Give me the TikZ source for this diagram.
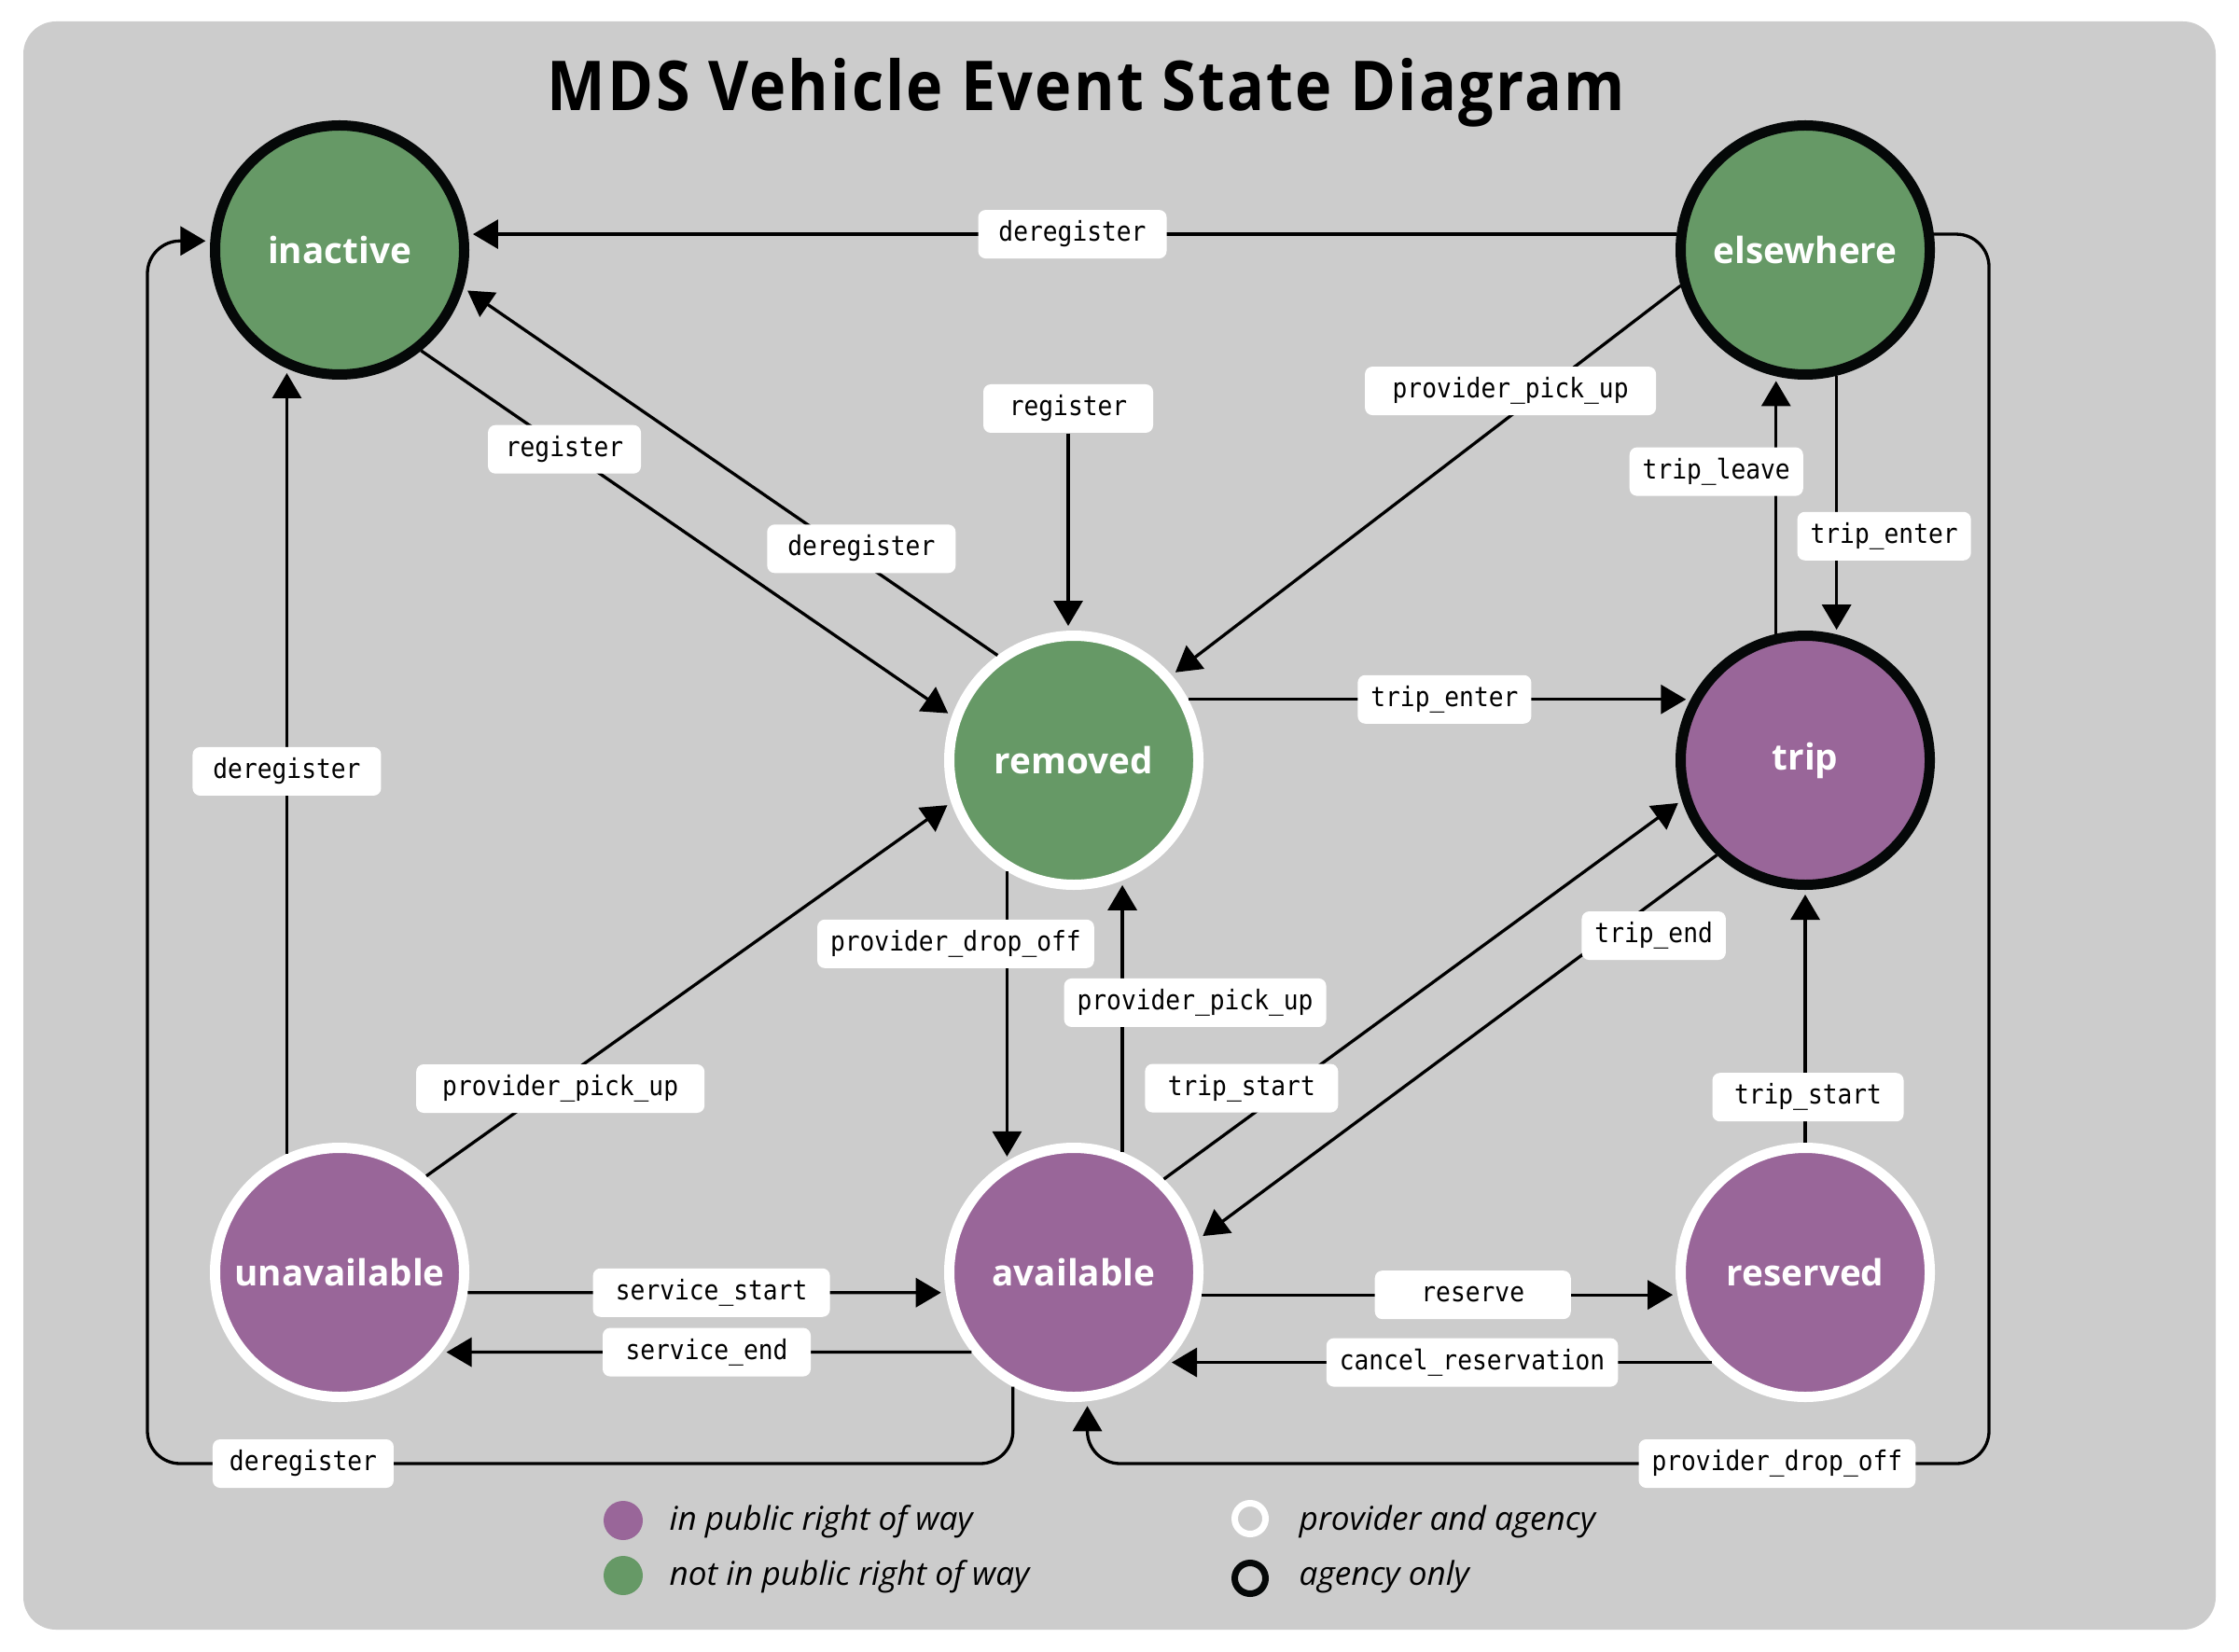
\documentclass[tikz,border=0pt]{standalone}
\usepackage{fontspec}
\usepackage{tikz}
\usetikzlibrary{arrows.meta, positioning}
\newfontfamily\titlefont{Open Sans}[FakeStretch=0.9, LetterSpace=3]
\newfontfamily\statefont{Open Sans}
\newfontfamily\eventfont{DejaVu Sans Mono}[FakeStretch=0.9]
\definecolor{panelgray}{RGB}{204,204,204}
\definecolor{offgreen}{RGB}{102,153,102}
\definecolor{rowpurple}{RGB}{153,102,153}
\definecolor{agencyblack}{RGB}{5,8,8}

\begin{document}
\begin{tikzpicture}[x=1mm, y=-1mm, on grid,
    state/.style={circle, minimum size=26.7mm, inner sep=0pt, line width=1.1mm, text=white,
                  font=\statefont\bfseries\fontsize{11pt}{13pt}\selectfont},
    agency/.style={state, draw=agencyblack},
    shared/.style={state, draw=white},
    event/.style={fill=white, rounded corners=0.8mm, inner xsep=1.4mm, inner ysep=0pt,
                  text height=6.2pt, text depth=1.9pt, minimum height=5.2mm,
                  font=\eventfont\fontsize{8.3pt}{10pt}\selectfont},
    arrow/.style={-{Triangle[length=2.7mm, width=3.1mm]}, line width=0.33mm, shorten >=0.5mm},
    legdot/.style={circle, minimum size=4.2mm, inner sep=0pt},
    legring/.style={circle, minimum size=3.3mm, inner sep=0pt, line width=0.7mm},
    legtext/.style={anchor=base west, inner sep=0pt, font=\statefont\itshape\fontsize{10pt}{12pt}\selectfont}
]
    \fill[white] (0,0) rectangle (240,177.1);
    \fill[panelgray, rounded corners=3.5mm] (2.5,2.3) rectangle (237.5,174.7);

    \node[font=\titlefont\bfseries\fontsize{21pt}{25pt}\selectfont, anchor=base] (title) at (116.45,11.9)
        {MDS Vehicle Event State Diagram};

    \node[agency, fill=offgreen] (inactive) at (36.4,26.8) {inactive};
    \node[agency, fill=offgreen, right=157.1mm of inactive] (elsewhere) {elsewhere};
    \node[shared, fill=offgreen, below right=54.7mm and 78.7mm of inactive] (removed) {removed};
    \node[agency, fill=rowpurple, below=54.7mm of elsewhere] (trip) {trip};
    \node[shared, fill=rowpurple, below=109.6mm of inactive] (unavailable) {unavailable};
    \node[shared, fill=rowpurple, below=54.9mm of removed] (available) {available};
    \node[shared, fill=rowpurple, below=54.9mm of trip] (reserved) {reserved};

    \node[event, minimum width=18.2mm, above=37.7mm of removed, xshift=-0.6mm] (newreg) {register};
    \coordinate (eastrail) at (213.2,156.9);
    \coordinate (westrail) at (15.8,156.9);

    \draw[arrow] (elsewhere.173) -- node[event, minimum width=20.2mm]{deregister} (inactive.7);
    \draw[arrow, rounded corners=3.5mm] (elsewhere.7) -| (eastrail)
        -- node[event, pos=0.235]{provider\_drop\_off} (eastrail -| available.-84) -- (available.-84);
    \draw[arrow, rounded corners=3.5mm] (available.-118) -- (available.-118 |- westrail)
        -- node[event, pos=0.82, minimum width=19.4mm]{deregister} (westrail) |- (inactive.176);
    \draw[arrow] (inactive.-51) -- node[event, pos=0.27, minimum width=16.4mm]{register} (removed.160);
    \draw[arrow] (removed.126) -- node[event, pos=0.29, xshift=2mm, minimum width=20.2mm]{deregister} (inactive.-17);
    \draw[arrow] (newreg) -- (newreg |- removed.north);
    \draw[arrow] (elsewhere.196) -- node[event, pos=0.27, xshift=-3.5mm, minimum width=31.2mm]{provider\_pick\_up} (removed.41);
    \draw[arrow] (removed.28) -- node[event, pos=0.51]{trip\_enter} (trip.152);
    \draw[arrow] (trip.103) -- node[event, pos=0.63, xshift=-6.4mm]{trip\_leave} (elsewhere.257);
    \draw[arrow] (elsewhere.-76) -- node[event, pos=0.62, xshift=5.1mm]{trip\_enter} (trip.76);
    \draw[arrow] (unavailable.114) -- node[event, pos=0.487, minimum width=20.2mm]{deregister} (inactive.246);
    \draw[arrow] (unavailable.48) -- node[event, pos=0.234, xshift=1.2mm, minimum width=30.9mm]{provider\_pick\_up} (removed.199);
    \draw[arrow] (removed.239) -- node[event, pos=0.25, xshift=-5.5mm]{provider\_drop\_off} (available.121);
    \draw[arrow] (available.68) -- node[event, pos=0.55, xshift=7.8mm]{provider\_pick\_up} (removed.292);
    \draw[arrow] (available.46) -- node[event, pos=0.24, xshift=-5mm, minimum width=20.7mm]{trip\_start} (trip.198);
    \draw[arrow] (trip.227) -- node[event, pos=0.21, xshift=4.9mm]{trip\_end} (available.15);
    \draw[arrow] (reserved.90) -- node[event, pos=0.18, xshift=0.3mm, minimum width=20.5mm]{trip\_start} (trip.270);
    \draw[arrow] (unavailable.-9) -- node[event, pos=0.51, minimum width=25.4mm]{service\_start} (available.189);
    \draw[arrow] (available.218) -- node[event, minimum width=22.3mm]{service\_end} (unavailable.-38);
    \draw[arrow] (available.-10) -- node[event, pos=0.57, minimum width=21mm]{reserve} (reserved.190);
    \draw[arrow] (reserved.224) -- node[event, pos=0.44]{cancel\_reservation} (available.-44);

    \node[legdot, fill=rowpurple] (pubdot) at (66.8,163.0) {};
    \node[legdot, fill=offgreen] (offdot) at (66.8,168.9) {};
    \node[legtext] (pubtext) at (71.7,164.0) {in public right of way};
    \node[legtext] (offtext) at (71.7,169.9) {not in public right of way};
    \node[legring, draw=white] (bothring) at (134.0,162.8) {};
    \node[legring, draw=agencyblack] (onlyring) at (134.0,169.2) {};
    \node[legtext] (bothtext) at (139.2,164.0) {provider and agency};
    \node[legtext] (onlytext) at (139.2,169.9) {agency only};
\end{tikzpicture}
\end{document}
